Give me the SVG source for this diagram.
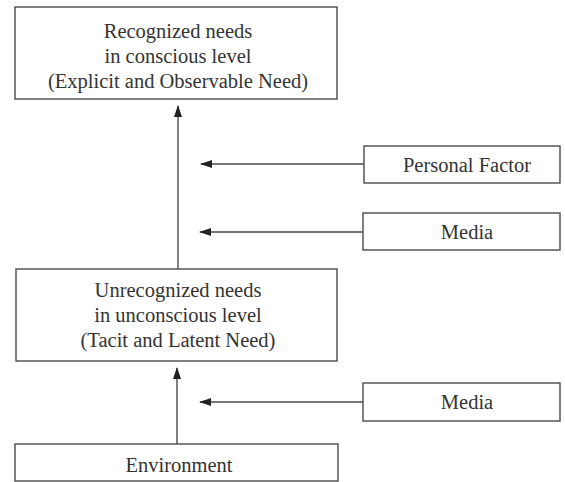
<svg xmlns="http://www.w3.org/2000/svg" width="565" height="482" viewBox="0 0 565 482">
<style>
.box{fill:#fff;stroke:#4a4a4a;stroke-width:1.4}
.t{font-family:"Liberation Serif","Times New Roman",serif;font-size:20.5px;fill:#333;text-anchor:middle}
.c{stroke:#4a4a4a;stroke-width:1.4;fill:none}
</style>
<defs>
<marker id="ah" markerWidth="12" markerHeight="8" refX="11" refY="4" orient="auto" markerUnits="userSpaceOnUse">
<path d="M0,0 L12,4 L0,8 Z" fill="#222"/>
</marker>
</defs>
<rect width="565" height="482" fill="#fff"/>
<g id="recognized">
<rect class="box" x="15" y="7" width="322" height="92"/>
<text class="t" x="178" y="38">Recognized needs</text>
<text class="t" x="178" y="63">in conscious level</text>
<text class="t" x="178" y="88">(Explicit and Observable Need)</text>
</g>
<g id="personal">
<rect class="box" x="364" y="146" width="196" height="37"/>
<text class="t" x="467" y="172">Personal Factor</text>
</g>
<g id="media1">
<rect class="box" x="363" y="213" width="197" height="37"/>
<text class="t" x="467" y="239">Media</text>
</g>
<g id="unrecognized">
<rect class="box" x="16" y="269" width="321" height="92"/>
<text class="t" x="178" y="297">Unrecognized needs</text>
<text class="t" x="178" y="322">in unconscious level</text>
<text class="t" x="178" y="347">(Tacit and Latent Need)</text>
</g>
<g id="media2">
<rect class="box" x="363" y="383" width="197" height="38"/>
<text class="t" x="467" y="409">Media</text>
</g>
<g id="environment">
<rect class="box" x="15" y="444" width="323" height="37"/>
<text class="t" x="179" y="472">Environment</text>
</g>
<g id="connectors">
<line class="c" x1="178" y1="269" x2="178" y2="106" marker-end="url(#ah)"/>
<line class="c" x1="364" y1="164" x2="201" y2="164" marker-end="url(#ah)"/>
<line class="c" x1="363" y1="232" x2="200" y2="232" marker-end="url(#ah)"/>
<line class="c" x1="177" y1="444" x2="177" y2="368" marker-end="url(#ah)"/>
<line class="c" x1="363" y1="402" x2="200" y2="402" marker-end="url(#ah)"/>
</g>
</svg>
